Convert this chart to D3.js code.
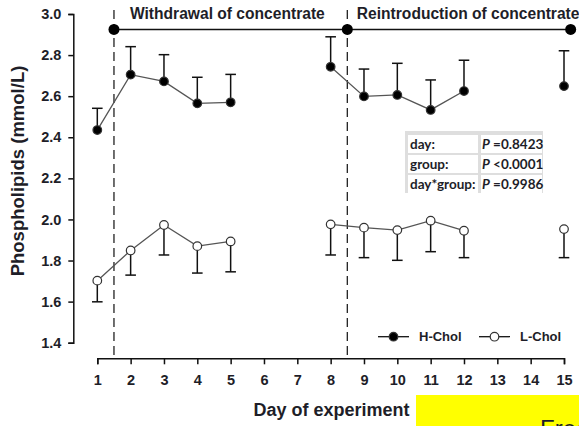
<!DOCTYPE html>
<html>
<head>
<meta charset="utf-8">
<script src="https://cdn.jsdelivr.net/npm/d3@7"></script>
<style>
  html, body { margin: 0; padding: 0; background: #fff; }
  svg { display: block; }
  text { font-family: "Liberation Sans", Arial, sans-serif; fill: #1e1e28; }
</style>
</head>
<body>
<svg id="chart" width="579" height="426"></svg>
<script>
// Days of the experiment and tick labels
const days = [1, 2, 3, 4, 5, 8, 9, 10, 11, 12, 15];
const xTicks = [1, 2, 3, 4, 5, 6, 7, 8, 9, 10, 11, 12, 13, 14, 15];
const yTicks = [1.4, 1.6, 1.8, 2.0, 2.2, 2.4, 2.6, 2.8, 3.0];

// H-Chol group: means and upper error limits
const hChol    = [2.435, 2.705, 2.672, 2.565, 2.570, 2.743, 2.599, 2.606, 2.533, 2.625, 2.649];
const hCholErr = [2.541, 2.841, 2.802, 2.692, 2.706, 2.889, 2.732, 2.760, 2.679, 2.775, 2.821];

// L-Chol group: means and lower error limits
const lChol    = [1.702, 1.849, 1.973, 1.870, 1.893, 1.976, 1.960, 1.948, 1.994, 1.945, 1.953];
const lCholErr = [1.599, 1.729, 1.827, 1.739, 1.745, 1.827, 1.814, 1.801, 1.843, 1.814, 1.814];

// Consecutive-day runs joined by lines
const segments = [[1, 2, 3, 4, 5], [8, 9, 10, 11, 12], [15]];

// Phase boundaries and the phase bar
const phaseBreaks = [1.5, 8.5];
const phaseMarks = [1.5, 8.5, 15.2];
const phaseLevel = 2.925;
const phaseLabels = [
  { day: 1.5, dx: 16, text: "Withdrawal of concentrate" },
  { day: 8.5, dx: 9.5, text: "Reintroduction of concentrate" }
];

// Statistics table
const statTerms = ["day:", "group:", "day*group:"];
const statOps = ["=", "<", "="];
const statValues = ["0.8423", "0.0001", "0.9986"];

const svg = d3.select("#chart");

const x = d3.scaleLinear().domain([1, 15]).range([97.3, 564]);
const y = d3.scaleLinear().domain([1.4, 3.0]).range([342.7, 14]);
const xAxisY = 358.3;
const yAxisX = 73.3;

// Y axis
const yAxis = svg.append("g")
  .attr("transform", `translate(${yAxisX},0)`)
  .call(d3.axisLeft(y).tickValues(yTicks).tickFormat(d3.format(".1f")).tickSize(5).tickPadding(7));
yAxis.select(".domain").attr("stroke", "#111").attr("stroke-width", 1.5);
yAxis.selectAll(".tick line").attr("stroke", "#111").attr("stroke-width", 1.5);
yAxis.selectAll(".tick text")
  .style("font-family", "'Liberation Sans', Arial, sans-serif")
  .style("font-size", "14.5px").style("font-weight", "bold").attr("fill", "#1e1e28");

// X axis
const xAxis = svg.append("g")
  .attr("transform", `translate(0,${xAxisY})`)
  .call(d3.axisBottom(x).tickValues(xTicks).tickFormat(d3.format("d")).tickSize(6).tickPadding(10));
xAxis.select(".domain").attr("stroke", "#111").attr("stroke-width", 1.5);
xAxis.selectAll(".tick line").attr("stroke", "#111").attr("stroke-width", 1.5);
xAxis.selectAll(".tick text")
  .style("font-family", "'Liberation Sans', Arial, sans-serif")
  .style("font-size", "14.5px").style("font-weight", "bold").attr("fill", "#1e1e28");

// Axis titles
svg.append("text")
  .attr("transform", `translate(24,171) rotate(-90)`)
  .attr("text-anchor", "middle")
  .style("font-size", "18.5px").style("font-weight", "bold")
  .text("Phospholipids (mmol/L)");

svg.append("text")
  .attr("x", 331.5).attr("y", 416)
  .attr("text-anchor", "middle")
  .style("font-size", "18px").style("font-weight", "bold")
  .text("Day of experiment");

// Highlighted caption box at the bottom edge
svg.append("rect")
  .attr("x", 416).attr("y", 395).attr("width", 163).attr("height", 31)
  .attr("fill", "#ffff00");
svg.append("text")
  .attr("x", 540).attr("y", 437)
  .style("font-size", "24px")
  .attr("fill", "#111")
  .text("Free");

// Phase boundary dashed lines
svg.append("g").selectAll("line")
  .data(phaseBreaks)
  .join("line")
  .attr("x1", d => x(d)).attr("x2", d => x(d))
  .attr("y1", 10).attr("y2", xAxisY)
  .attr("stroke", "#222").attr("stroke-width", 1.3)
  .attr("stroke-dasharray", "9,5");

// Phase bar with markers
svg.append("line")
  .attr("x1", x(phaseMarks[0])).attr("x2", x(phaseMarks[phaseMarks.length - 1]))
  .attr("y1", y(phaseLevel)).attr("y2", y(phaseLevel))
  .attr("stroke", "#111").attr("stroke-width", 1.5);
svg.append("g").selectAll("circle")
  .data(phaseMarks)
  .join("circle")
  .attr("cx", d => x(d)).attr("cy", y(phaseLevel)).attr("r", 5.5)
  .attr("fill", "#000");
svg.append("g").selectAll("text")
  .data(phaseLabels)
  .join("text")
  .attr("x", d => x(d.day) + d.dx).attr("y", 19)
  .style("font-size", "15.6px").style("font-weight", "bold")
  .text(d => d.text);

// Build per-group records
function records(vals, errs) {
  return days.map((d, i) => ({ day: d, v: vals[i], e: errs[i] }));
}
const groups = [
  { name: "H-Chol", data: records(hChol, hCholErr), fill: "#000" },
  { name: "L-Chol", data: records(lChol, lCholErr), fill: "#fff" }
];

const line = d3.line().x(d => x(d.day)).y(d => y(d.v));

groups.forEach(g => {
  // connecting lines for consecutive days
  segments.forEach(seg => {
    const pts = g.data.filter(p => seg.includes(p.day));
    if (pts.length > 1) {
      svg.append("path")
        .attr("d", line(pts))
        .attr("fill", "none")
        .attr("stroke", "#555").attr("stroke-width", 1.3);
    }
  });
  // error bars with caps
  const eb = svg.append("g");
  eb.selectAll("line.stem")
    .data(g.data).join("line")
    .attr("x1", d => x(d.day)).attr("x2", d => x(d.day))
    .attr("y1", d => y(d.v)).attr("y2", d => y(d.e))
    .attr("stroke", "#111").attr("stroke-width", 1.5);
  eb.selectAll("line.cap")
    .data(g.data).join("line")
    .attr("x1", d => x(d.day) - 5.3).attr("x2", d => x(d.day) + 5.3)
    .attr("y1", d => y(d.e)).attr("y2", d => y(d.e))
    .attr("stroke", "#111").attr("stroke-width", 1.5);
  // markers
  svg.append("g").selectAll("circle")
    .data(g.data).join("circle")
    .attr("cx", d => x(d.day)).attr("cy", d => y(d.v)).attr("r", 4.3)
    .attr("fill", g.fill).attr("stroke", "#333").attr("stroke-width", 1.2);
});

// Statistics table: grey frame with white cells
const tbl = svg.append("g").attr("transform", "translate(405,131)");
const tblW = 138, tblH = 62;
const rowTops = [4, 24, 44], cellH = 18;
const col0 = { x: 3, w: 70 }, col1 = { x: 76, w: 61 };
tbl.append("rect").attr("width", tblW).attr("height", tblH).attr("fill", "#dedede");
statTerms.forEach((t, i) => {
  tbl.append("rect").attr("x", col0.x).attr("y", rowTops[i])
    .attr("width", col0.w).attr("height", cellH).attr("fill", "#fff");
  tbl.append("rect").attr("x", col1.x).attr("y", rowTops[i])
    .attr("width", col1.w).attr("height", cellH).attr("fill", "#fff");
  tbl.append("text")
    .attr("x", col0.x + 2).attr("y", rowTops[i] + 14)
    .style("font-family", "Lato, 'Open Sans', sans-serif")
    .style("font-size", "13.5px").style("font-weight", "bold")
    .text(t);
  const v = tbl.append("text")
    .attr("x", col1.x + 1).attr("y", rowTops[i] + 14)
    .style("font-family", "Lato, 'Open Sans', sans-serif")
    .style("font-size", "13.5px").style("font-weight", "bold");
  v.append("tspan").style("font-style", "italic").text("P");
  v.append("tspan").text(` ${statOps[i]}${statValues[i]}`);
});

// Legend
const legend = svg.append("g").attr("transform", "translate(0,336.7)");
const legendItems = [
  { name: "H-Chol", fill: "#000", x0: 378 },
  { name: "L-Chol", fill: "#fff", x0: 479 }
];
legendItems.forEach(it => {
  legend.append("line").attr("x1", it.x0).attr("x2", it.x0 + 31)
    .attr("y1", 0).attr("y2", 0).attr("stroke", "#111").attr("stroke-width", 1.3);
  legend.append("circle").attr("cx", it.x0 + 15.5).attr("cy", 0).attr("r", 4.3)
    .attr("fill", it.fill).attr("stroke", "#333").attr("stroke-width", 1.2);
  legend.append("text").attr("x", it.x0 + 41).attr("y", 4.7)
    .style("font-size", "13px").style("font-weight", "bold")
    .text(it.name);
});
</script>
</body>
</html>
